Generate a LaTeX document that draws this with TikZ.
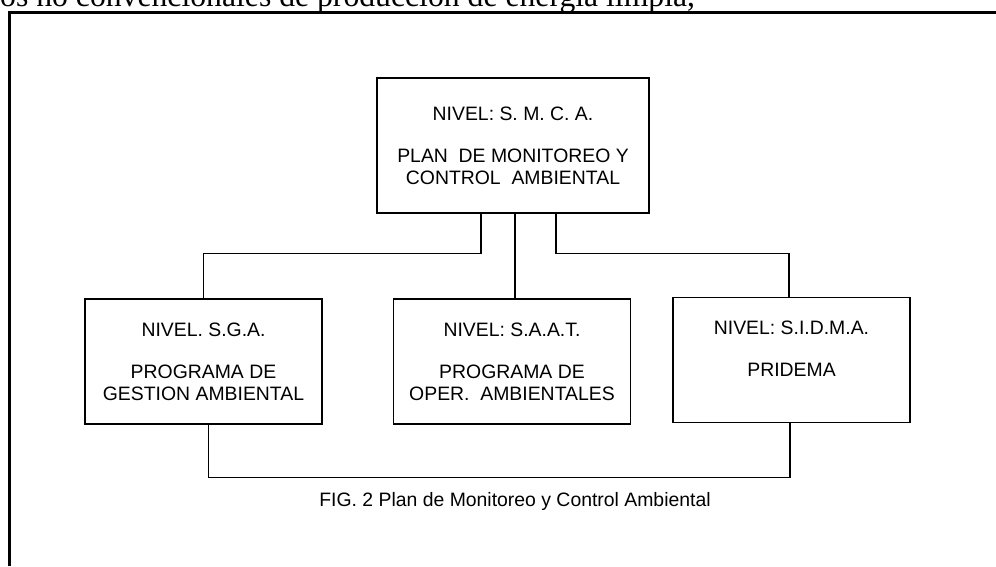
\documentclass[tikz,border=0pt]{standalone}
\usepackage{fontspec}
\setmainfont{Liberation Serif}
\newfontfamily\boxfont{Liberation Sans}
\usepackage{tikz}

\tikzset{
  nivel/.style={draw, line width=1.2pt, minimum width=237pt, minimum height=125pt,
    inner sep=0pt, align=center, font=\boxfont\fontsize{19.4}{22}\selectfont},
  enlace/.style={line width=1.2pt}
}

\begin{document}
\begin{tikzpicture}[x=1pt,y=-1pt]

\useasboundingbox (0,0) rectangle (996,566);

\node [anchor=base west, inner sep=0pt, font=\fontsize{31.7}{34}\selectfont] (previo) at (0,6.5)
  {os no convencionales de producción de energía limpia,};

\draw [line width=3pt] (9.5,566) -- (9.5,12.5) -- (996,12.5);

\node [nivel, minimum width=272pt, minimum height=135pt] (smca) at (513,145.5)
  {NIVEL: S. M. C. A.\\[20pt] PLAN~ DE MONITOREO Y\\ CONTROL~ AMBIENTAL};

\node [nivel] (sga) at (203.5,361.5) {NIVEL. S.G.A.\\[20pt] PROGRAMA DE\\ GESTION AMBIENTAL};
\node [nivel] (saat) at (512,361.5) {NIVEL: S.A.A.T.\\[20pt] PROGRAMA DE\\ OPER.~ AMBIENTALES};
\node [nivel] (sidma) at (791.5,360) {NIVEL: S.I.D.M.A.\\[20pt] PRIDEMA\\ \mbox{}};

\draw [enlace] ([xshift=-32pt]smca.south) -- ++(0,40) -| (sga.north);
\draw [enlace] ([xshift=2pt]smca.south) -- ([xshift=3pt]saat.north);
\draw [enlace] ([xshift=43pt]smca.south) -- ++(0,40) -| ([xshift=-2.5pt]sidma.north);

\draw [enlace] ([xshift=5pt]sga.south) -- ++(0,53) -| ([xshift=-1.5pt]sidma.south);

\node [anchor=base, inner sep=0pt, font=\boxfont\fontsize{19.4}{22}\selectfont] (pie) at (515,506.5)
  {FIG. 2 Plan de Monitoreo y Control Ambiental};

\end{tikzpicture}
\end{document}
